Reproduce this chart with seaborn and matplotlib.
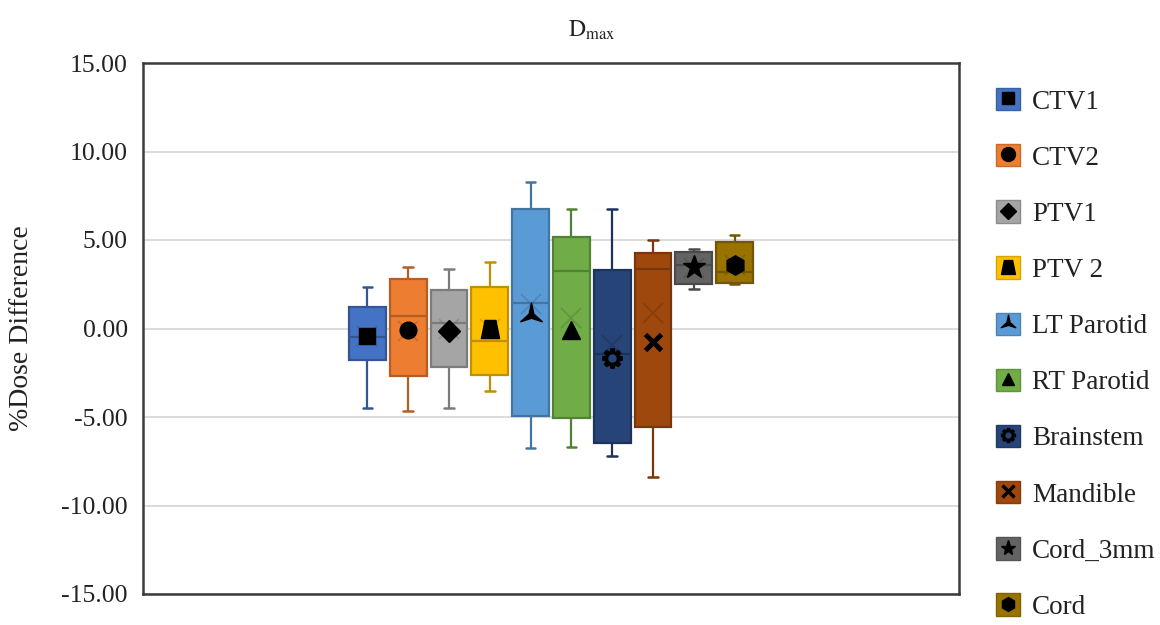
import numpy as np
import pandas as pd
import matplotlib
matplotlib.use('Agg')
import matplotlib.pyplot as plt
import matplotlib.colors as mcolors
from matplotlib.path import Path
from matplotlib.patches import Patch
from matplotlib.lines import Line2D
import seaborn as sns

# Structures and Excel-style colours
structures = ['CTV1', 'CTV2', 'PTV1', 'PTV 2', 'LT Parotid', 'RT Parotid',
              'Brainstem', 'Mandible', 'Cord_3mm', 'Cord']
colors = ['#4472C4', '#ED7D31', '#A5A5A5', '#FFC000', '#5B9BD5',
          '#70AD47', '#264478', '#9E480E', '#636363', '#997300']

# Five-number summaries (% dose difference)
mins = [-4.50, -4.64, -4.50, -3.53, -6.77, -6.71, -7.20, -8.37, 2.21, 2.51]
q1s = [-1.78, -2.68, -2.19, -2.63, -4.94, -5.07, -6.49, -5.58, 2.51, 2.59]
medians = [-0.46, 0.72, 0.29, -0.69, 1.42, 3.27, -1.46, 3.34, 3.59, 3.21]
q3s = [1.19, 2.80, 2.17, 2.36, 6.73, 5.19, 3.30, 4.25, 4.34, 4.87]
maxs = [2.36, 3.46, 3.38, 3.76, 8.26, 6.73, 6.73, 5.00, 4.49, 5.28]
means = [-0.45, -0.15, 0.00, 0.00, 1.40, 0.59, -0.93, 0.86, 3.40, 3.60]
marker_values = [-0.45, -0.08, -0.12, -0.05, 0.76, -0.08, -1.68, -0.74, 3.49, 3.59]

yticks = [-15, -10, -5, 0, 5, 10, 15]

# Marker shapes
trapezoid = Path([(-0.5, -0.5), (0.5, -0.5), (0.3, 0.5), (-0.3, 0.5), (-0.5, -0.5)],
                 [Path.MOVETO, Path.LINETO, Path.LINETO, Path.LINETO, Path.CLOSEPOLY])


def tri_star():
    verts = []
    for k in range(3):
        a = np.deg2rad(90 + 120 * k)
        verts.append((np.cos(a), np.sin(a)))
        b = a + np.deg2rad(60)
        verts.append((0.22 * np.cos(b), 0.22 * np.sin(b)))
    verts.append(verts[0])
    codes = [Path.MOVETO] + [Path.LINETO] * 5 + [Path.CLOSEPOLY]
    return Path(verts, codes)


def gear():
    verts = []
    for k in range(8):
        a0 = k * 2 * np.pi / 8
        for da, r in [(-0.30, 0.72), (-0.17, 1.0), (0.17, 1.0), (0.30, 0.72)]:
            verts.append((r * np.cos(a0 + da), r * np.sin(a0 + da)))
    verts.append(verts[0])
    codes = [Path.MOVETO] + [Path.LINETO] * (len(verts) - 2) + [Path.CLOSEPOLY]
    return Path(verts, codes)


markers = ['s', 'o', 'D', trapezoid, tri_star(), '^', gear(), 'x', '*', 'h']
msizes = [12, 12, 11, 13, 18, 13, 14, 11, 17, 14]
leg_sizes = [8, 10, 8, 10, 12, 9, 10, 8, 11, 10]


def darker(c, f=0.75):
    r, g, b = mcolors.to_rgb(c)
    return (r * f, g * f, b * f)


sns.set_theme(style='white')
plt.rcParams['font.family'] = ['Liberation Serif', 'DejaVu Serif']
plt.rcParams['mathtext.fontset'] = 'stix'

rows = []
for s, a, b, c, d, e in zip(structures, mins, q1s, medians, q3s, maxs):
    for v in (a, b, c, d, e):
        rows.append({'panel': 'Dmax', 'structure': s, 'value': v})
df = pd.DataFrame(rows)

fig = plt.figure(figsize=(11.6, 6.25), dpi=100)
ax = fig.add_axes([143 / 1160, 1 - 594 / 625, (959 - 143) / 1160, (594 - 63) / 625])

sns.boxplot(data=df, x='panel', y='value', hue='structure', hue_order=structures,
            palette=colors, saturation=1, whis=(0, 100), width=0.5, gap=0.1,
            showfliers=False, linewidth=1.6, legend=False, ax=ax)

centers = []
for cont, col in zip(ax.containers, colors):
    dc = darker(col)
    for box in cont.boxes:
        box.set_edgecolor(dc)
        box.set_linewidth(1.6)
        xs = box.get_path().vertices[:, 0]
        centers.append((xs.min() + xs.max()) / 2)
    for ln in list(cont.whiskers) + list(cont.medians):
        ln.set_color(dc)
        ln.set_linewidth(1.6)
    for ln in cont.caps:
        ln.set_color(dc)
        ln.set_linewidth(1.8)
        xd = np.asarray(ln.get_xdata(), dtype=float)
        mid = xd.mean()
        ln.set_xdata([mid - 0.006, mid + 0.006])

for cx, m, col in zip(centers, means, colors):
    ax.plot(cx, m, marker='x', ls='', color=darker(col, 0.6), alpha=0.35,
            ms=15, mew=1.2, zorder=4)

for i, (cx, v) in enumerate(zip(centers, marker_values)):
    mk = markers[i]
    if mk == 'x':
        ax.plot(cx, v, marker='x', ls='', color='black', ms=msizes[i], mew=3.5, zorder=5)
    else:
        ax.plot(cx, v, marker=mk, ls='', color='black', ms=msizes[i], zorder=5)
    if structures[i] == 'Brainstem':
        ax.plot(cx, v, marker='o', ls='', color=colors[i], ms=5, zorder=6)

ax.set_ylim(-15, 15)
ax.set_xlim(-0.5, 0.5)
ax.set_yticks(yticks)
ax.set_yticklabels([f'{t:.2f}' for t in yticks], fontsize=18.5)
ax.set_xticks([])
ax.set_xlabel('')
ax.set_ylabel('')
ax.tick_params(axis='y', length=0, pad=11, colors='#222222')
ax.yaxis.grid(True, color='#d9d9d9', linewidth=1.3)
ax.set_axisbelow(True)
for sp in ax.spines.values():
    sp.set_visible(True)
    sp.set_color('#3a3a3a')
    sp.set_linewidth(1.8)

fig.text(22 / 1160, 1 - 328 / 625, '%Dose Difference', rotation=90,
         ha='center', va='center', fontsize=20, color='#222222')
fig.text(592 / 1160, 1 - 30 / 625, r'$\mathrm{D_{max}}$', ha='center', va='center',
         fontsize=17, color='#222222')

handles = []
for i, col in enumerate(colors):
    patch = Patch(facecolor=col, edgecolor=darker(col, 0.85), linewidth=1)
    if markers[i] == 'x':
        mark = Line2D([], [], marker='x', ls='', color='black', ms=leg_sizes[i], mew=2.5)
    else:
        mark = Line2D([], [], marker=markers[i], ls='', color='black', ms=leg_sizes[i])
    if structures[i] == 'Brainstem':
        hole = Line2D([], [], marker='o', ls='', color=col, ms=3.5)
        handles.append((patch, mark, hole))
    else:
        handles.append((patch, mark))

fig.legend(handles, structures, loc='upper left', bbox_to_anchor=(996 / 1160, 1 - 88 / 625),
           frameon=False, fontsize=19.5, handlelength=0.89, handleheight=0.89,
           handletextpad=0.44, labelspacing=1.095, borderpad=0, borderaxespad=0,
           labelcolor='#222222')

fig.savefig('out.png', dpi=100)
